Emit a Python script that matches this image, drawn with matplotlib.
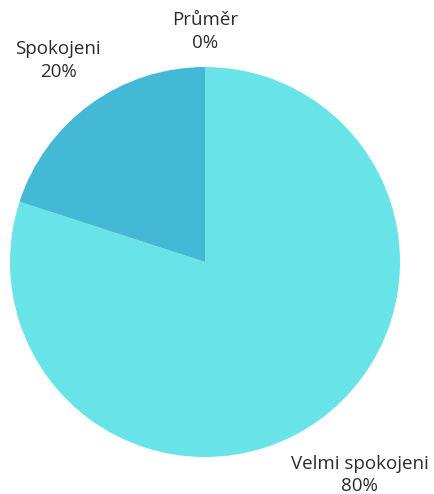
import numpy as np
import matplotlib
matplotlib.use("Agg")
import matplotlib.pyplot as plt

categories = ["Velmi spokojeni", "Spokojeni", "Průměr"]
values = [80, 20, 0]
colors = ["#68E4E8", "#44B9D6", "#2A8FB0"]
label_dist = [1.35, 1.28, 1.18]

plt.rcParams["font.family"] = ["Open Sans", "DejaVu Sans"]

fig = plt.figure(figsize=(4.35, 4.94), dpi=100)
ax = fig.add_axes([10 / 435, 37 / 494, 390 / 435, 390 / 494])

wedges, _ = ax.pie(values, colors=colors, startangle=90, counterclock=False,
                   radius=1.0, wedgeprops=dict(linewidth=0))

total = sum(values)
for w, name, v, d in zip(wedges, categories, values, label_dist):
    ang = np.deg2rad((w.theta1 + w.theta2) / 2)
    ax.text(d * np.cos(ang), d * np.sin(ang), f"{name}\n{v / total:.0%}",
            ha="center", va="center", fontsize=13.5, color="#2b2b2b",
            linespacing=1.35, clip_on=False)

ax.set_xlim(-1, 1)
ax.set_ylim(-1, 1)
ax.set_aspect("auto")
ax.axis("off")

fig.savefig("out.png", dpi=100)
